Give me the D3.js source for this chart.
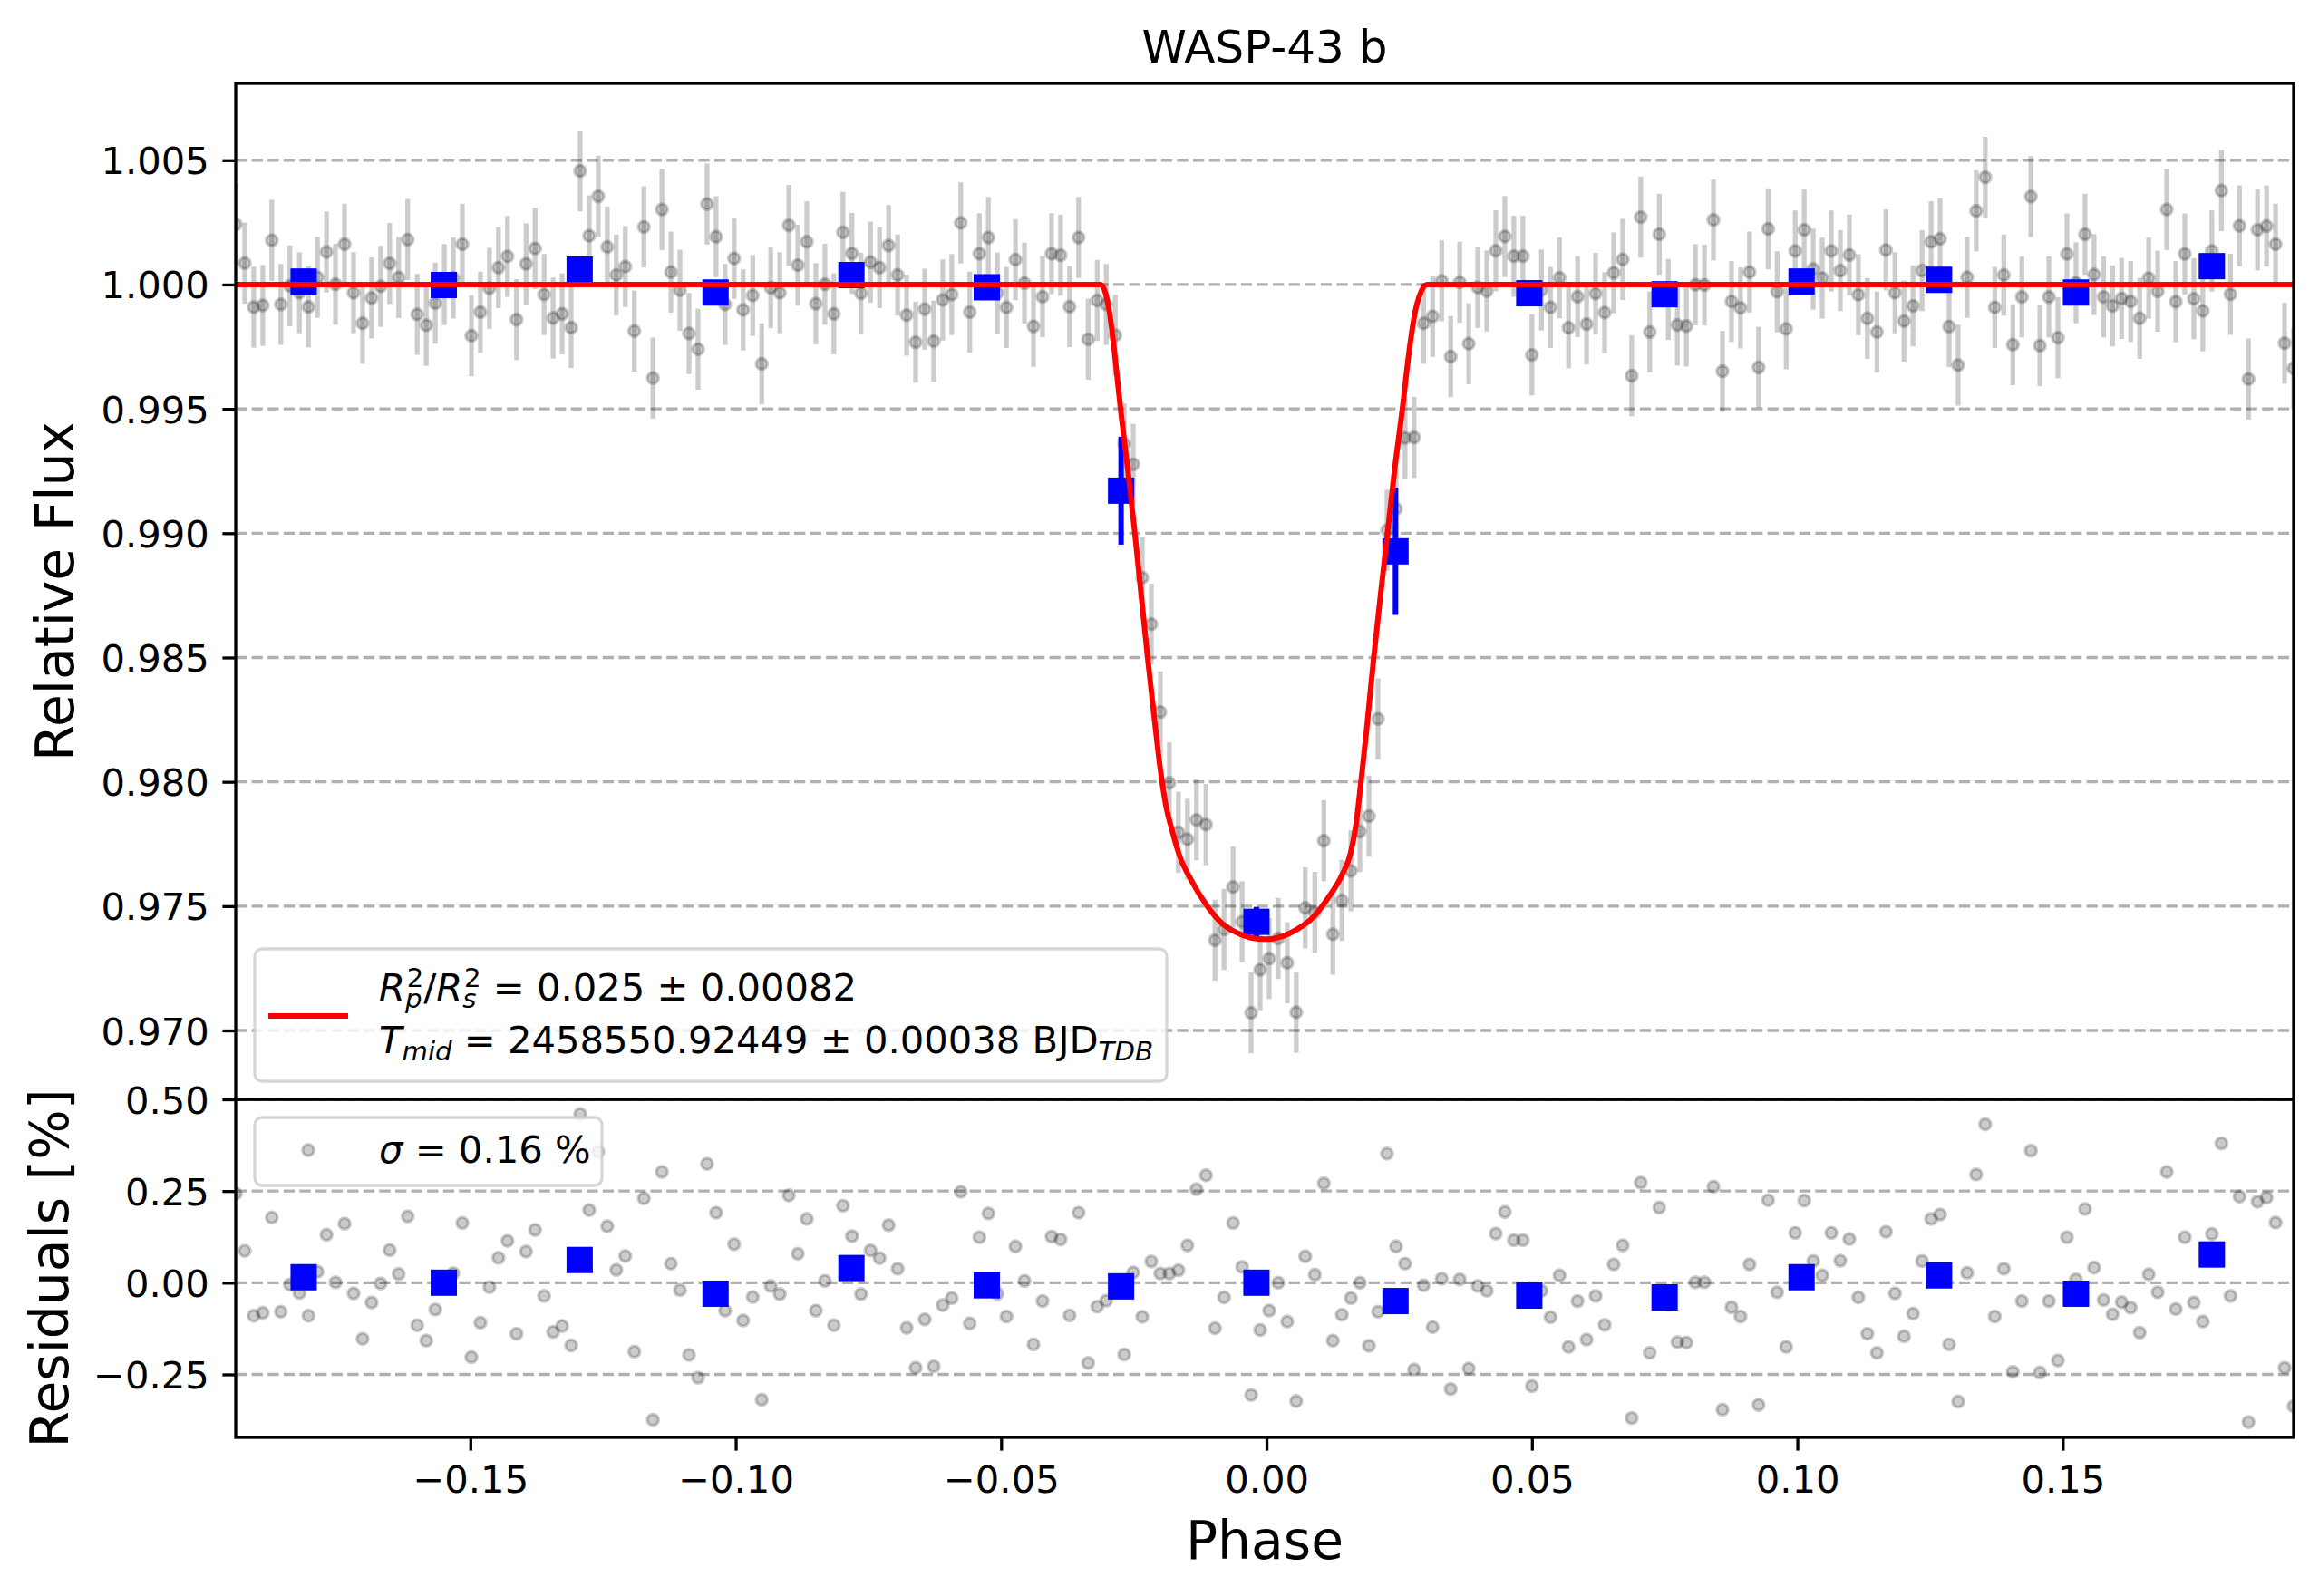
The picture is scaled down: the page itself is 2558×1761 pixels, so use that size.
<!DOCTYPE html>
<html>
<head>
<meta charset="utf-8">
<script src="https://cdn.jsdelivr.net/npm/d3@7"></script>
<style>
  body { margin: 0; background: #fff; }
  svg { display: block; }
  text { white-space: pre; }
</style>
</head>
<body>
<script>
// --- phase of each binned observation
var phase = [
  -0.1942, -0.1925, -0.1908, -0.1891, -0.1874, -0.1857, -0.1840, -0.1822, -0.1805, -0.1788,
  -0.1771, -0.1754, -0.1737, -0.1720, -0.1703, -0.1686, -0.1669, -0.1652, -0.1635, -0.1618,
  -0.1600, -0.1583, -0.1566, -0.1549, -0.1532, -0.1515, -0.1498, -0.1481, -0.1464, -0.1447,
  -0.1430, -0.1413, -0.1395, -0.1378, -0.1361, -0.1344, -0.1327, -0.1310, -0.1293, -0.1276,
  -0.1259, -0.1242, -0.1225, -0.1208, -0.1191, -0.1173, -0.1156, -0.1139, -0.1122, -0.1105,
  -0.1088, -0.1071, -0.1054, -0.1037, -0.1020, -0.1003, -0.0986, -0.0968, -0.0951, -0.0934,
  -0.0917, -0.0900, -0.0883, -0.0866, -0.0849, -0.0832, -0.0815, -0.0798, -0.0781, -0.0764,
  -0.0746, -0.0729, -0.0712, -0.0695, -0.0678, -0.0661, -0.0644, -0.0627, -0.0610, -0.0593,
  -0.0576, -0.0559, -0.0541, -0.0524, -0.0507, -0.0490, -0.0473, -0.0456, -0.0439, -0.0422,
  -0.0405, -0.0388, -0.0371, -0.0354, -0.0336, -0.0319, -0.0302, -0.0285, -0.0268, -0.0251,
  -0.0234, -0.0217, -0.0200, -0.0183, -0.0166, -0.0149, -0.0132, -0.0114, -0.0097, -0.0080,
  -0.0063, -0.0046, -0.0029, -0.0012, 0.0005, 0.0022, 0.0039, 0.0056, 0.0073, 0.0091,
  0.0108, 0.0125, 0.0142, 0.0159, 0.0176, 0.0193, 0.0210, 0.0227, 0.0244, 0.0261,
  0.0278, 0.0296, 0.0313, 0.0330, 0.0347, 0.0364, 0.0381, 0.0398, 0.0415, 0.0432,
  0.0449, 0.0466, 0.0483, 0.0500, 0.0518, 0.0535, 0.0552, 0.0569, 0.0586, 0.0603,
  0.0620, 0.0637, 0.0654, 0.0671, 0.0688, 0.0705, 0.0722, 0.0740, 0.0757, 0.0774,
  0.0791, 0.0808, 0.0825, 0.0842, 0.0859, 0.0876, 0.0893, 0.0910, 0.0927, 0.0945,
  0.0962, 0.0979, 0.0996, 0.1013, 0.1030, 0.1047, 0.1064, 0.1081, 0.1098, 0.1115,
  0.1132, 0.1150, 0.1167, 0.1184, 0.1201, 0.1218, 0.1235, 0.1252, 0.1269, 0.1286,
  0.1303, 0.1320, 0.1337, 0.1354, 0.1372, 0.1389, 0.1406, 0.1423, 0.1440, 0.1457,
  0.1474, 0.1491, 0.1508, 0.1525, 0.1542, 0.1559, 0.1577, 0.1594, 0.1611, 0.1628,
  0.1645, 0.1662, 0.1679, 0.1696, 0.1713, 0.1730, 0.1747, 0.1764, 0.1781, 0.1799,
  0.1816, 0.1833, 0.1850, 0.1867, 0.1884, 0.1901, 0.1918, 0.1935
]

// --- relative flux (grey points, top panel)
var flux = [
  1.00242, 1.00086, 0.99909, 0.99916, 1.00178, 0.99920, 0.99995, 0.99967, 0.99910, 1.00029,
  1.00131, 1.00001, 1.00162, 0.99967, 0.99844, 0.99946, 0.99993, 1.00085, 1.00028, 1.00181,
  0.99880, 0.99836, 0.99925, 1.00000, 1.00026, 1.00162, 0.99794, 0.99889, 0.99985, 1.00068,
  1.00113, 0.99859, 1.00083, 1.00145, 0.99960, 0.99865, 0.99882, 0.99827, 1.00457, 1.00196,
  1.00355, 1.00151, 1.00038, 1.00072, 0.99813, 1.00232, 0.99624, 1.00302, 1.00050, 0.99977,
  0.99803, 0.99740, 1.00324, 1.00192, 0.99920, 1.00105, 0.99898, 0.99956, 0.99681, 0.99987,
  0.99967, 1.00238, 1.00078, 1.00172, 0.99923, 1.00001, 0.99882, 1.00210, 1.00125, 0.99965,
  1.00090, 1.00068, 1.00157, 1.00038, 0.99877, 0.99768, 0.99901, 0.99772, 0.99938, 0.99960,
  1.00248, 0.99889, 1.00124, 1.00189, 0.99966, 0.99908, 1.00100, 1.00006, 0.99832, 0.99951,
  1.00124, 1.00118, 0.99911, 1.00189, 0.99780, 0.99936, 0.99920, 0.99796, 0.99359, 0.99277,
  0.98821, 0.98634, 0.98281, 0.97996, 0.97797, 0.97769, 0.97847, 0.97828, 0.97363, 0.97406,
  0.97577, 0.97437, 0.97071, 0.97244, 0.97289, 0.97370, 0.97272, 0.97073, 0.97493, 0.97475,
  0.97763, 0.97387, 0.97523, 0.97642, 0.97800, 0.97862, 0.98253, 0.99012, 0.99098, 0.99383,
  0.99385, 0.99844, 0.99872, 1.00015, 0.99710, 1.00009, 0.99762, 0.99988, 0.99974, 1.00136,
  1.00193, 1.00114, 1.00114, 0.99717, 0.99978, 0.99908, 1.00027, 0.99826, 0.99951, 0.99841,
  0.99964, 0.99887, 1.00047, 1.00101, 0.99633, 1.00271, 0.99809, 1.00202, 0.99940, 0.99837,
  0.99833, 0.99999, 0.99998, 1.00260, 0.99651, 0.99932, 0.99906, 1.00050, 0.99667, 1.00224,
  0.99971, 0.99822, 1.00135, 1.00220, 1.00062, 1.00026, 1.00135, 1.00056, 1.00119, 0.99959,
  0.99864, 0.99809, 1.00139, 0.99967, 0.99853, 0.99914, 1.00056, 1.00172, 1.00184, 0.99831,
  0.99676, 1.00029, 1.00296, 1.00431, 0.99908, 1.00038, 0.99758, 0.99950, 1.00354, 0.99754,
  0.99950, 0.99786, 1.00123, 1.00007, 1.00202, 1.00040, 0.99950, 0.99914, 0.99944, 0.99932,
  0.99864, 1.00026, 0.99973, 1.00302, 0.99931, 1.00123, 0.99943, 0.99894, 1.00135, 1.00378,
  0.99961, 1.00236, 0.99620, 1.00220, 1.00235, 1.00162, 0.99764, 0.99663
]
var fluxErr = 0.00163

// --- residuals in percent (grey points, bottom panel)
var resid = [
  0.243, 0.087, -0.090, -0.082, 0.178, -0.079, -0.005, -0.028, -0.090, 0.030,
  0.131, 0.001, 0.161, -0.029, -0.153, -0.054, -0.002, 0.089, 0.024, 0.181,
  -0.116, -0.158, -0.073, 0.000, 0.026, 0.163, -0.203, -0.109, -0.012, 0.068,
  0.114, -0.139, 0.085, 0.144, -0.036, -0.134, -0.118, -0.171, 0.460, 0.198,
  0.357, 0.154, 0.035, 0.073, -0.188, 0.230, -0.374, 0.302, 0.052, -0.020,
  -0.197, -0.259, 0.324, 0.191, -0.076, 0.105, -0.103, -0.039, -0.319, -0.009,
  -0.031, 0.238, 0.079, 0.174, -0.076, 0.005, -0.116, 0.210, 0.127, -0.031,
  0.088, 0.067, 0.157, 0.038, -0.123, -0.232, -0.100, -0.228, -0.061, -0.042,
  0.248, -0.111, 0.124, 0.189, -0.030, -0.092, 0.099, 0.005, -0.168, -0.050,
  0.126, 0.118, -0.089, 0.191, -0.219, -0.065, -0.049, -0.012, -0.196, 0.028,
  -0.093, 0.058, 0.025, 0.025, 0.034, 0.102, 0.255, 0.293, -0.124, -0.040,
  0.163, 0.043, -0.306, -0.129, -0.076, 0.000, -0.106, -0.323, 0.072, 0.022,
  0.271, -0.158, -0.087, -0.042, 0.000, -0.172, -0.079, 0.352, 0.099, 0.052,
  -0.237, -0.007, -0.121, 0.011, -0.290, 0.009, -0.234, -0.009, -0.022, 0.134,
  0.193, 0.116, 0.116, -0.282, -0.022, -0.094, 0.020, -0.175, -0.050, -0.155,
  -0.036, -0.115, 0.050, 0.102, -0.369, 0.273, -0.191, 0.205, -0.060, -0.162,
  -0.163, 0.001, 0.001, 0.262, -0.346, -0.067, -0.092, 0.050, -0.333, 0.225,
  -0.026, -0.175, 0.136, 0.224, 0.059, 0.020, 0.136, 0.060, 0.119, -0.040,
  -0.139, -0.191, 0.139, -0.029, -0.146, -0.084, 0.059, 0.174, 0.186, -0.168,
  -0.324, 0.027, 0.295, 0.432, -0.092, 0.038, -0.243, -0.050, 0.360, -0.245,
  -0.050, -0.212, 0.124, 0.009, 0.201, 0.041, -0.047, -0.086, -0.053, -0.068,
  -0.136, 0.023, -0.026, 0.302, -0.072, 0.124, -0.054, -0.106, 0.133, 0.380,
  -0.036, 0.235, -0.380, 0.221, 0.232, 0.164, -0.232, -0.337
]

// --- binned points (blue squares)
var binPhase = [-0.1814, -0.1550, -0.1294, -0.1038, -0.0782, -0.0527, -0.0274, -0.0019,
  0.0243, 0.0495, 0.0750, 0.1008, 0.1267, 0.1525, 0.1781]
var binFlux = [1.00012, 0.99998, 1.00060, 0.99968, 1.00038, 0.99989, 0.99171, 0.97437,
  0.98927, 0.99965, 0.99961, 1.00012, 1.00019, 0.99968, 1.00074]
var binErr = [0.0004, 0.0004, 0.0004, 0.0004, 0.0004, 0.0004, 0.00217, 0.0006,
  0.00256, 0.0004, 0.0004, 0.0004, 0.0004, 0.0004, 0.0004]
var binResid = [0.015, 0.000, 0.062, -0.030, 0.040, -0.007, -0.010, 0.000,
  -0.050, -0.035, -0.040, 0.015, 0.020, -0.030, 0.077]

// --- transit model (red line)
var modelPhase = [-0.1942, -0.0312, -0.0304, -0.0296, -0.0286, -0.0275, -0.0261, -0.0248,
  -0.0236, -0.0224, -0.0211, -0.0200, -0.0190, -0.0178, -0.0164, -0.0141, -0.0113,
  -0.0085, -0.0056, -0.0028, -0.0002, 0.0029, 0.0057, 0.0086, 0.0114, 0.0143, 0.0158,
  0.0168, 0.0178, 0.0188, 0.0202, 0.0215, 0.0228, 0.0241, 0.0256, 0.0268, 0.0280,
  0.0291, 0.0302, 0.1935]
var modelFlux = [1.0, 1.0, 0.9997, 0.9989, 0.9972, 0.9950, 0.9925, 0.9900,
  0.9875, 0.9850, 0.9825, 0.9805, 0.9791, 0.97806, 0.97704, 0.97601, 0.97504,
  0.97433, 0.97393, 0.97372, 0.97367, 0.97378, 0.97406, 0.97452, 0.97527, 0.97629, 0.9771,
  0.9782, 0.9800, 0.98197, 0.9850, 0.98755, 0.9900, 0.99249, 0.9950, 0.9972, 0.9989,
  0.9997, 1.0, 1.0]

// --- ticks
var fluxTicks = [0.970, 0.975, 0.980, 0.985, 0.990, 0.995, 1.000, 1.005]
var residTicks = [-0.25, 0.00, 0.25, 0.50]
var phaseTicks = [-0.15, -0.10, -0.05, 0.00, 0.05, 0.10, 0.15]

; (function () {
    var W = 2558, H = 1761
    var L = 260, R = 2530, T1 = 92, B1 = 1213, B2 = 1586
    var tickFs = 41.7, labelFs = 58.3

    var svg = d3.select('body').append('svg')
        .attr('width', W).attr('height', H)
        .style('font-family', '"DejaVu Sans", sans-serif')

    svg.append('rect').attr('width', W).attr('height', H).attr('fill', '#fff')

    var x = d3.scaleLinear().domain([phase[0], phase[phase.length - 1]]).range([L, R])
    var yF = d3.scaleLinear().domain([0.96723, 1.00809]).range([B1, T1])
    var yR = d3.scaleLinear().domain([-0.4218, 0.5]).range([B2, B1])

    var defs = svg.append('defs')
    defs.append('clipPath').attr('id', 'clipTop').append('rect')
        .attr('x', L).attr('y', T1).attr('width', R - L).attr('height', B1 - T1)
    defs.append('clipPath').attr('id', 'clipRes').append('rect')
        .attr('x', L).attr('y', B1).attr('width', R - L).attr('height', B2 - B1)

    var obs = phase.map(function (p, i) { return { p: p, f: flux[i], r: resid[i] } })
    var bins = binPhase.map(function (p, i) { return { p: p, f: binFlux[i], e: binErr[i], r: binResid[i] } })

    function grid(g, y, ticks) {
        g.selectAll('line.grid').data(ticks).enter().append('line')
            .attr('class', 'grid')
            .attr('x1', L).attr('x2', R)
            .attr('y1', function (d) { return y(d) }).attr('y2', function (d) { return y(d) })
            .attr('stroke', '#b0b0b0').attr('stroke-width', 3.3)
            .attr('stroke-dasharray', '12.3,5.3')
    }

    function greyDots(g, cx, cy, data) {
        g.selectAll('circle.pt').data(data).enter().append('circle')
            .attr('class', 'pt')
            .attr('cx', cx).attr('cy', cy).attr('r', 6.2)
            .attr('fill', '#000').attr('fill-opacity', 0.2)
            .attr('stroke', '#000').attr('stroke-opacity', 0.2).attr('stroke-width', 3.4)
    }

    // ---------------- top panel
    var top = svg.append('g').attr('clip-path', 'url(#clipTop)')
    grid(top, yF, fluxTicks)

    top.selectAll('line.eb').data(obs).enter().append('line')
        .attr('class', 'eb')
        .attr('x1', function (d) { return x(d.p) }).attr('x2', function (d) { return x(d.p) })
        .attr('y1', function (d) { return yF(d.f - fluxErr) })
        .attr('y2', function (d) { return yF(d.f + fluxErr) })
        .attr('stroke', '#000').attr('stroke-opacity', 0.2).attr('stroke-width', 5.3)
    greyDots(top, function (d) { return x(d.p) }, function (d) { return yF(d.f) }, obs)

    top.selectAll('line.beb').data(bins).enter().append('line')
        .attr('class', 'beb')
        .attr('x1', function (d) { return x(d.p) }).attr('x2', function (d) { return x(d.p) })
        .attr('y1', function (d) { return yF(d.f - d.e) })
        .attr('y2', function (d) { return yF(d.f + d.e) })
        .attr('stroke', '#0000ff').attr('stroke-width', 6)
    top.selectAll('rect.bin').data(bins).enter().append('rect')
        .attr('class', 'bin')
        .attr('x', function (d) { return x(d.p) - 14.5 }).attr('y', function (d) { return yF(d.f) - 14.5 })
        .attr('width', 29).attr('height', 29).attr('fill', '#0000ff')

    var line = d3.line()
        .x(function (d) { return x(d[0]) })
        .y(function (d) { return yF(d[1]) })
        .curve(d3.curveMonotoneX)
    top.append('path')
        .datum(modelPhase.map(function (p, i) { return [p, modelFlux[i]] }))
        .attr('d', line)
        .attr('fill', 'none').attr('stroke', '#ff0000').attr('stroke-width', 6)

    // ---------------- residual panel
    var res = svg.append('g').attr('clip-path', 'url(#clipRes)')
    grid(res, yR, residTicks)
    greyDots(res, function (d) { return x(d.p) }, function (d) { return yR(d.r) }, obs)
    res.selectAll('rect.bin').data(bins).enter().append('rect')
        .attr('class', 'bin')
        .attr('x', function (d) { return x(d.p) - 14.5 }).attr('y', function (d) { return yR(d.r) - 14.5 })
        .attr('width', 29).attr('height', 29).attr('fill', '#0000ff')

    // ---------------- axes
    function styleAxis(g) {
        g.select('.domain').remove()
        g.selectAll('.tick line').attr('stroke', '#000').attr('stroke-width', 3.3)
        g.selectAll('.tick text').attr('font-size', tickFs).attr('fill', '#000')
            .attr('font-family', '"DejaVu Sans", sans-serif')
    }

    svg.append('g').attr('transform', 'translate(' + L + ',0)')
        .call(d3.axisLeft(yF).tickValues(fluxTicks).tickFormat(d3.format('.3f'))
            .tickSize(14.6).tickPadding(14.6))
        .call(styleAxis)
        .selectAll('.tick text').attr('dy', '0.36em')

    svg.append('g').attr('transform', 'translate(' + L + ',0)')
        .call(d3.axisLeft(yR).tickValues(residTicks).tickFormat(d3.format('.2f'))
            .tickSize(14.6).tickPadding(14.6))
        .call(styleAxis)
        .selectAll('.tick text').attr('dy', '0.36em')

    svg.append('g').attr('transform', 'translate(0,' + B2 + ')')
        .call(d3.axisBottom(x).tickValues(phaseTicks).tickFormat(d3.format('.2f'))
            .tickSize(14.6).tickPadding(14.6))
        .call(styleAxis)
        .selectAll('.tick text').attr('dy', '0.76em')

    // spines
    svg.append('rect').attr('x', L).attr('y', T1).attr('width', R - L).attr('height', B1 - T1)
        .attr('fill', 'none').attr('stroke', '#000').attr('stroke-width', 3.3)
    svg.append('rect').attr('x', L).attr('y', B1).attr('width', R - L).attr('height', B2 - B1)
        .attr('fill', 'none').attr('stroke', '#000').attr('stroke-width', 3.3)

    // labels
    svg.append('text').attr('x', (L + R) / 2).attr('y', 69)
        .attr('text-anchor', 'middle').attr('font-size', 50).text('WASP-43 b')
    svg.append('text').attr('x', (L + R) / 2).attr('y', 1720)
        .attr('text-anchor', 'middle').attr('font-size', labelFs).text('Phase')
    svg.append('text').attr('transform', 'translate(81,' + (T1 + B1) / 2 + ') rotate(-90)')
        .attr('text-anchor', 'middle').attr('font-size', labelFs).text('Relative Flux')
    svg.append('text').attr('transform', 'translate(75,' + (B1 + B2) / 2 + ') rotate(-90)')
        .attr('text-anchor', 'middle').attr('font-size', labelFs).text('Residuals [%]')

    // mathtext-like line built as one <text> with positioned tspans
    // it = italic, s = 'sub' | 'sup', stack = put over the previous subscript
    function mathLine(g, x0, y0, size, runs) {
        var txt = g.append('text').attr('x', x0).attr('y', y0).attr('font-size', size)
        var cx = x0, subStart = null, subEnd = null
        runs.forEach(function (r) {
            var fs = r.s ? size * 0.7 : size
            var dy = r.s === 'sub' ? size * 0.2 : (r.s === 'sup' ? -size * 0.36 : 0)
            var sx = (r.stack && subStart !== null) ? subStart + size * 0.04 : cx
            var ts = txt.append('tspan').attr('x', sx).attr('y', y0 + dy)
                .attr('font-size', fs).attr('font-style', r.it ? 'italic' : 'normal').text(r.t)
            var w = ts.node().getComputedTextLength()
            if (r.s === 'sub') { subStart = sx; subEnd = sx + w }
            cx = r.stack ? Math.max(subEnd, sx + w) : sx + w
        })
    }

    // legend, top panel
    var lg = svg.append('g')
    lg.append('rect').attr('x', 281).attr('y', 1047).attr('width', 1006).attr('height', 146)
        .attr('rx', 8).attr('fill', '#fff').attr('fill-opacity', 0.8)
        .attr('stroke', '#cccccc').attr('stroke-opacity', 0.8).attr('stroke-width', 3.3)
    lg.append('line').attr('x1', 296).attr('x2', 384).attr('y1', 1121).attr('y2', 1121)
        .attr('stroke', '#ff0000').attr('stroke-width', 6)
    mathLine(lg, 418, 1104, tickFs, [
        { t: 'R', it: true }, { t: 'p', it: true, s: 'sub' }, { t: '2', s: 'sup', stack: true },
        { t: '/' }, { t: 'R', it: true }, { t: 's', it: true, s: 'sub' }, { t: '2', s: 'sup', stack: true },
        { t: ' = 0.025 \u00b1 0.00082' }
    ])
    mathLine(lg, 418, 1162, tickFs, [
        { t: 'T', it: true }, { t: 'mid', it: true, s: 'sub' },
        { t: ' = 2458550.92449 \u00b1 0.00038 BJD' }, { t: 'TDB', it: true, s: 'sub' }
    ])

    // legend, residual panel
    var lr = svg.append('g')
    lr.append('rect').attr('x', 281).attr('y', 1233).attr('width', 383).attr('height', 75)
        .attr('rx', 8).attr('fill', '#fff').attr('fill-opacity', 0.8)
        .attr('stroke', '#cccccc').attr('stroke-opacity', 0.8).attr('stroke-width', 3.3)
    greyDots(lr, 340, 1269, [0])
    mathLine(lr, 418, 1283, tickFs, [{ t: '\u03c3', it: true }, { t: ' = 0.16 %' }])
})()
</script>
</body>
</html>
